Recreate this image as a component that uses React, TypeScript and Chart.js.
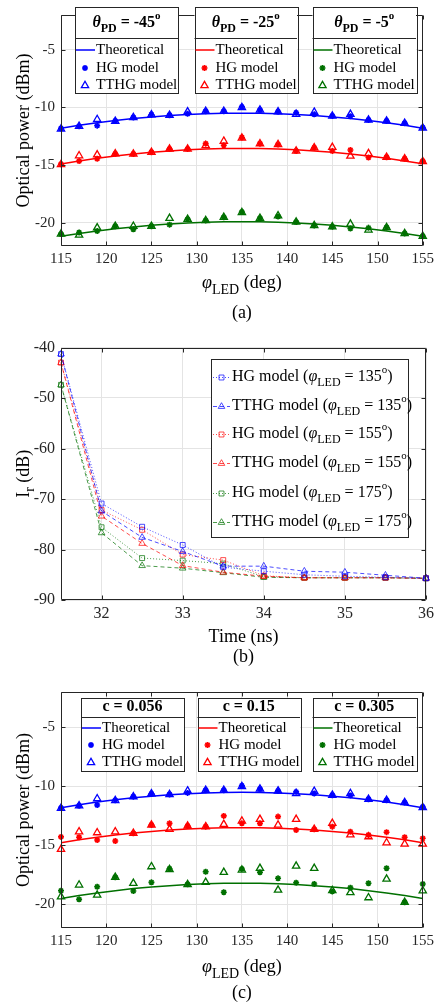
import React, { useEffect, useRef } from 'react';
import { Chart, registerables } from 'chart.js';

Chart.register(...registerables);

const FONT = '"Liberation Serif", "Times New Roman", serif';
const AXIS = '#262626';
const GRID = '#e4e4e4';
const BLUE = '#0000ff';
const RED = '#ff0000';
const GREEN = '#007000';

// ---------- data: panels (a) and (c) ----------
const phiLED = [115, 117, 119, 121, 123, 125, 127, 129, 131, 133, 135, 137, 139, 141, 143, 145, 147, 149, 151, 153, 155];
const phiTicks = [115, 120, 125, 130, 135, 140, 145, 150, 155];
const powerTicks = [-20, -15, -10, -5];
const legendLabels = ['Theoretical', 'HG model', 'TTHG model'];
const thetaPD = ['-45', '-25', '-5'];
const cValues = ['0.056', '0.15', '0.305'];

const blueTheory = [-11.80, -11.55, -11.33, -11.14, -10.97, -10.83, -10.71, -10.62, -10.55, -10.51, -10.50, -10.51, -10.55, -10.62, -10.71, -10.83, -10.97, -11.14, -11.33, -11.55, -11.80];
const blueHG = [-11.83, -11.64, -11.58, -11.18, -10.87, -10.63, -10.68, -10.55, -10.33, -10.33, -9.95, -10.22, -10.38, -10.46, -10.60, -10.74, -10.77, -11.09, -11.18, -11.37, -11.75];
const blueTTHG = [-11.86, -11.64, -11.04, -11.20, -10.87, -10.63, -10.68, -10.38, -10.33, -10.33, -10.00, -10.22, -10.38, -10.60, -10.41, -10.74, -10.60, -11.09, -11.18, -11.37, -11.78];

const redTheoryA = [-14.90, -14.64, -14.41, -14.21, -14.04, -13.89, -13.77, -13.67, -13.60, -13.56, -13.55, -13.56, -13.60, -13.67, -13.77, -13.89, -14.04, -14.21, -14.41, -14.64, -14.88];
const redHGA = [-14.92, -14.65, -14.45, -14.02, -14.04, -13.88, -13.61, -13.61, -13.14, -13.28, -12.60, -13.14, -13.22, -13.77, -13.49, -13.77, -13.69, -14.34, -14.32, -14.45, -14.65];
const redTTHGA = [-14.95, -14.18, -14.10, -14.02, -14.04, -13.88, -13.61, -13.61, -13.30, -12.92, -12.65, -13.14, -13.22, -13.77, -13.49, -13.46, -14.21, -14.00, -14.32, -14.45, -14.68];

const greenTheoryA = [-21.15, -20.91, -20.70, -20.51, -20.35, -20.21, -20.10, -20.00, -19.95, -19.91, -19.90, -19.91, -19.95, -20.00, -20.10, -20.21, -20.35, -20.51, -20.70, -20.91, -21.15];
const greenHGA = [-20.97, -20.83, -20.70, -20.29, -20.56, -20.29, -20.15, -19.69, -19.80, -19.52, -19.06, -19.60, -19.45, -19.93, -20.23, -20.34, -20.48, -20.43, -20.40, -20.92, -21.16];
const greenTTHGA = [-20.97, -21.05, -20.43, -20.29, -20.29, -20.29, -19.60, -19.69, -19.80, -19.52, -19.10, -19.60, -19.38, -19.93, -20.23, -20.34, -20.10, -20.61, -20.40, -20.92, -21.16];

const redTheoryC = [-14.77, -14.53, -14.31, -14.12, -13.95, -13.82, -13.70, -13.61, -13.55, -13.51, -13.50, -13.51, -13.55, -13.61, -13.70, -13.82, -13.95, -14.12, -14.31, -14.53, -14.77];
const redHGC = [-14.28, -14.31, -14.54, -14.63, -13.98, -13.27, -13.13, -13.36, -13.41, -12.50, -13.13, -13.13, -12.56, -13.69, -13.64, -13.41, -13.84, -14.12, -13.88, -14.31, -14.40];
const redTTHGC = [-15.33, -13.84, -13.92, -13.84, -13.98, -13.27, -13.64, -13.36, -13.41, -13.21, -12.93, -12.79, -13.27, -12.79, -13.64, -13.13, -14.10, -14.26, -14.77, -14.88, -14.88];

const greenTheoryC = [-19.50, -19.25, -19.03, -18.84, -18.66, -18.53, -18.41, -18.32, -18.25, -18.21, -18.20, -18.21, -18.25, -18.32, -18.41, -18.53, -18.66, -18.84, -19.03, -19.25, -19.50];
const greenHGC = [-18.84, -19.57, -18.50, -17.70, -18.86, -18.13, -16.98, -18.30, -17.23, -18.97, -17.00, -17.28, -17.79, -18.16, -18.27, -18.90, -18.58, -18.21, -16.94, -19.82, -18.27];
const greenTTHGC = [-19.35, -18.35, -19.20, -17.70, -18.21, -16.80, -17.05, -18.32, -18.13, -17.28, -17.08, -16.94, -18.78, -16.75, -16.94, -18.82, -19.00, -19.43, -17.85, -19.82, -18.84];

// ---------- data: panel (b) ----------
const timeNs = [31.5, 32, 32.5, 33, 33.5, 34, 34.5, 35, 35.5, 36];
const timeTicks = [32, 33, 34, 35, 36];
const irTicks = [-90, -80, -70, -60, -50, -40];
const phiLEDb = ['135', '155', '175'];
const hg135 = [-41.3, -70.9, -75.5, -79.1, -83.5, -84.3, -85.0, -85.3, -85.5, -85.7];
const tthg135 = [-41.3, -72.4, -77.6, -80.4, -83.3, -83.3, -84.3, -84.5, -85.1, -85.7];
const hg155 = [-43.0, -72.2, -76.1, -81.0, -82.1, -85.2, -85.6, -85.6, -85.6, -85.7];
const tthg155 = [-43.0, -73.4, -78.8, -83.2, -84.5, -85.3, -85.6, -85.6, -85.6, -85.7];
const hg175 = [-47.4, -75.6, -81.7, -82.2, -82.8, -85.4, -85.6, -85.6, -85.6, -85.7];
const tthg175 = [-47.4, -76.7, -83.2, -83.7, -84.6, -85.5, -85.6, -85.6, -85.6, -85.7];

// ---------- rich text helpers ----------
type Seg = { t: string; size: number; bold?: boolean; italic?: boolean; dy?: number };

function fontOf(s: Seg) {
  return `${s.italic ? 'italic ' : ''}${s.bold ? 'bold ' : ''}${s.size}px ${FONT}`;
}
function richWidth(ctx: CanvasRenderingContext2D, segs: Seg[]) {
  let w = 0;
  for (const s of segs) {
    ctx.font = fontOf(s);
    w += ctx.measureText(s.t).width;
  }
  return w;
}
function drawRich(ctx: CanvasRenderingContext2D, segs: Seg[], x: number, y: number, align: 'left' | 'center', color = '#000') {
  ctx.save();
  ctx.fillStyle = color;
  ctx.textBaseline = 'middle';
  ctx.textAlign = 'left';
  let cx = align === 'center' ? x - richWidth(ctx, segs) / 2 : x;
  for (const s of segs) {
    ctx.font = fontOf(s);
    ctx.fillText(s.t, cx, y + (s.dy || 0));
    cx += ctx.measureText(s.t).width;
  }
  ctx.restore();
}

function drawMarker(ctx: CanvasRenderingContext2D, style: string, x: number, y: number, r: number, color: string, lw: number) {
  ctx.save();
  ctx.strokeStyle = color;
  ctx.lineWidth = lw;
  ctx.setLineDash([]);
  ctx.beginPath();
  if (style === 'star') {
    for (let k = 0; k < 4; k++) {
      const a = (k * Math.PI) / 4;
      ctx.moveTo(x + Math.cos(a) * r, y + Math.sin(a) * r);
      ctx.lineTo(x - Math.cos(a) * r, y - Math.sin(a) * r);
    }
  } else if (style === 'triangle') {
    ctx.moveTo(x, y - r);
    ctx.lineTo(x + 0.866 * r, y + 0.5 * r);
    ctx.lineTo(x - 0.866 * r, y + 0.5 * r);
    ctx.closePath();
  } else {
    const s = Math.SQRT1_2 * r;
    ctx.rect(x - s, y - s, 2 * s, 2 * s);
  }
  ctx.stroke();
  ctx.restore();
}

// ---------- frame / titles plugin ----------
function makeDecor(d: {
  xTitle: Seg[];
  yTitle: Seg[];
  caption: string;
  xTitleY: number;
  captionY: number;
  xTicks: number[];
  yTicks: number[];
  extra?: (ctx: CanvasRenderingContext2D) => void;
}) {
  return {
    id: 'decor',
    afterDraw(chart: any) {
      const ctx: CanvasRenderingContext2D = chart.ctx;
      const a = chart.chartArea;
      const xs = chart.scales.x;
      const ys = chart.scales.y;
      const L = Math.round(a.left) + 0.5;
      const R = Math.round(a.right) - 0.5;
      const T = Math.round(a.top) + 0.5;
      const B = Math.round(a.bottom) - 0.5;
      ctx.save();
      ctx.strokeStyle = AXIS;
      ctx.lineWidth = 1;
      ctx.beginPath();
      ctx.rect(L, T, R - L, B - T);
      for (const v of d.xTicks) {
        const p = Math.round(xs.getPixelForValue(v)) + 0.5;
        ctx.moveTo(p, B);
        ctx.lineTo(p, B - 4);
        ctx.moveTo(p, T);
        ctx.lineTo(p, T + 4);
      }
      for (const v of d.yTicks) {
        const p = Math.round(ys.getPixelForValue(v)) + 0.5;
        ctx.moveTo(L, p);
        ctx.lineTo(L + 4, p);
        ctx.moveTo(R, p);
        ctx.lineTo(R - 4, p);
      }
      ctx.stroke();
      ctx.restore();
      const cx = (a.left + a.right) / 2;
      drawRich(ctx, d.xTitle, cx, d.xTitleY, 'center');
      ctx.save();
      ctx.translate(24, (a.top + a.bottom) / 2);
      ctx.rotate(-Math.PI / 2);
      drawRich(ctx, d.yTitle, 0, 0, 'center');
      ctx.restore();
      drawRich(ctx, [{ t: d.caption, size: 18 }], cx, d.captionY, 'center');
      if (d.extra) d.extra(ctx);
    },
  };
}

// ---------- panels (a) and (c) ----------
type PowerSeries = { color: string; theory: number[]; hg: number[]; tt: number[] };
type Box = { left: number; right: number; title: Seg[]; color: string };
type Geom = { top: number; divider: number; bottom: number; titleY: number; rows: number[] };

function drawPowerLegends(ctx: CanvasRenderingContext2D, boxes: Box[], g: Geom) {
  for (const b of boxes) {
    ctx.save();
    ctx.fillStyle = '#ffffff';
    ctx.fillRect(b.left, g.top, b.right - b.left, g.bottom - g.top);
    ctx.strokeStyle = AXIS;
    ctx.lineWidth = 1;
    ctx.strokeRect(Math.round(b.left) + 0.5, Math.round(g.top) + 0.5, Math.round(b.right - b.left), Math.round(g.bottom - g.top));
    ctx.beginPath();
    ctx.moveTo(b.left, Math.round(g.divider) + 0.5);
    ctx.lineTo(b.right, Math.round(g.divider) + 0.5);
    ctx.stroke();
    ctx.restore();
    drawRich(ctx, b.title, (b.left + b.right) / 2, g.titleY, 'center');
    ctx.save();
    ctx.strokeStyle = b.color;
    ctx.lineWidth = 1.5;
    ctx.beginPath();
    ctx.moveTo(b.left + 1, g.rows[0]);
    ctx.lineTo(b.left + 20, g.rows[0]);
    ctx.stroke();
    ctx.restore();
    drawMarker(ctx, 'star', b.left + 10, g.rows[1], 3, b.color, 1.6);
    drawMarker(ctx, 'triangle', b.left + 10, g.rows[2] + 0.5, 4.2, b.color, 1.3);
    legendLabels.forEach((lab, i) => {
      drawRich(ctx, [{ t: lab, size: 15 }], b.left + 21, g.rows[i], 'left', '#000');
    });
  }
}

function powerConfig(series: PowerSeries[], boxes: Box[], geom: Geom, padTop: number, xHeight: number, xTitleY: number, captionY: number, caption: string) {
  const datasets: any[] = [];
  for (const s of series) {
    datasets.push({
      data: phiLED.map((x, i) => ({ x, y: s.theory[i] })),
      borderColor: s.color,
      borderWidth: 1.5,
      pointRadius: 0,
      showLine: true,
      tension: 0,
      clip: false,
    });
    datasets.push({
      data: phiLED.map((x, i) => ({ x, y: s.hg[i] })),
      showLine: false,
      pointStyle: 'star',
      pointRadius: 3,
      pointBorderWidth: 1.6,
      pointBorderColor: s.color,
      pointBackgroundColor: s.color,
      borderColor: s.color,
      clip: false,
    });
    datasets.push({
      data: phiLED.map((x, i) => ({ x, y: s.tt[i] })),
      showLine: false,
      pointStyle: 'triangle',
      pointRadius: 4.2,
      pointBorderWidth: 1.3,
      pointBorderColor: s.color,
      pointBackgroundColor: 'rgba(255,255,255,0)',
      borderColor: s.color,
      clip: false,
    });
  }
  return {
    type: 'line',
    data: { datasets },
    options: {
      animation: false,
      responsive: false,
      devicePixelRatio: 1,
      layout: { padding: { top: padTop, right: 12, left: 0, bottom: 0 } },
      plugins: { legend: { display: false }, tooltip: { enabled: false } },
      scales: {
        x: {
          type: 'linear',
          min: 115,
          max: 155,
          afterBuildTicks: (sc: any) => { sc.ticks = phiTicks.map((v) => ({ value: v })); },
          afterFit: (sc: any) => { sc.height = xHeight; },
          ticks: { font: { family: FONT, size: 15 }, color: AXIS, padding: 4, autoSkip: false, maxRotation: 0 },
          grid: { color: GRID, drawTicks: false },
          border: { display: false },
        },
        y: {
          type: 'linear',
          min: -22,
          max: -2,
          afterBuildTicks: (sc: any) => { sc.ticks = powerTicks.map((v) => ({ value: v })); },
          afterFit: (sc: any) => { sc.width = 61; },
          ticks: { font: { family: FONT, size: 15 }, color: AXIS, padding: 6 },
          grid: { color: GRID, drawTicks: false },
          border: { display: false },
        },
      },
    },
    plugins: [
      makeDecor({
        xTitle: [{ t: 'φ', size: 18, italic: true }, { t: 'LED', size: 14, dy: 7 }, { t: ' (deg)', size: 18 }],
        yTitle: [{ t: 'Optical power (dBm)', size: 18 }],
        caption,
        xTitleY,
        captionY,
        xTicks: phiTicks,
        yTicks: powerTicks,
        extra: (ctx) => drawPowerLegends(ctx, boxes, geom),
      }),
    ],
  };
}

function thetaTitle(v: string): Seg[] {
  return [
    { t: 'θ', size: 16, bold: true, italic: true },
    { t: 'PD', size: 12, bold: true, dy: 6 },
    { t: ' = ' + v, size: 16, bold: true },
    { t: 'o', size: 11, bold: true, dy: -7 },
  ];
}

// ---------- panel (b) ----------
function timeConfig() {
  const colors = ['rgba(0,0,255,0.7)', 'rgba(255,0,0,0.7)', 'rgba(0,112,0,0.7)'];
  const hgs = [hg135, hg155, hg175];
  const tts = [tthg135, tthg155, tthg175];
  const datasets: any[] = [];
  hgs.forEach((arr, k) => {
    datasets.push({
      data: timeNs.map((x, i) => ({ x, y: arr[i] })),
      borderColor: colors[k],
      borderWidth: 1,
      borderDash: [1, 2],
      pointStyle: 'rect',
      pointRadius: 3.5,
      pointBorderWidth: 1,
      pointBorderColor: colors[k],
      pointBackgroundColor: 'rgba(255,255,255,0)',
      tension: 0,
      clip: false,
    });
    datasets.push({
      data: timeNs.map((x, i) => ({ x, y: tts[k][i] })),
      borderColor: colors[k],
      borderWidth: 1,
      borderDash: [4, 3],
      pointStyle: 'triangle',
      pointRadius: 3.8,
      pointBorderWidth: 1,
      pointBorderColor: colors[k],
      pointBackgroundColor: 'rgba(255,255,255,0)',
      tension: 0,
      clip: false,
    });
  });
  const legendRows = [47, 76, 104, 133, 163, 192];
  const extra = (ctx: CanvasRenderingContext2D) => {
    const left = 211, right = 408, top = 29, bottom = 207;
    ctx.save();
    ctx.fillStyle = '#fff';
    ctx.fillRect(left, top, right - left, bottom - top);
    ctx.strokeStyle = AXIS;
    ctx.lineWidth = 1;
    ctx.strokeRect(left + 0.5, top + 0.5, right - left, bottom - top);
    ctx.restore();
    legendRows.forEach((y, i) => {
      const k = Math.floor(i / 2);
      const isHG = i % 2 === 0;
      ctx.save();
      ctx.strokeStyle = colors[k];
      ctx.lineWidth = 1;
      ctx.setLineDash(isHG ? [1, 2] : [4, 3]);
      ctx.beginPath();
      ctx.moveTo(213, y + 0.5);
      ctx.lineTo(230, y + 0.5);
      ctx.stroke();
      ctx.restore();
      drawMarker(ctx, isHG ? 'rect' : 'triangle', 221.5, y + 0.5, isHG ? 3.5 : 3.8, colors[k], 1);
      drawRich(ctx, [
        { t: (isHG ? 'HG model' : 'TTHG model') + ' (', size: 16 },
        { t: 'φ', size: 16, italic: true },
        { t: 'LED', size: 12, dy: 6 },
        { t: ' = ' + phiLEDb[k], size: 16 },
        { t: 'o', size: 11, dy: -7 },
        { t: ')', size: 16 },
      ], 232, y, 'left');
    });
  };
  return {
    type: 'line',
    data: { datasets },
    options: {
      animation: false,
      responsive: false,
      devicePixelRatio: 1,
      layout: { padding: { top: 17.5, right: 12, left: 0, bottom: 0 } },
      plugins: { legend: { display: false }, tooltip: { enabled: false } },
      scales: {
        x: {
          type: 'linear',
          min: 31.5,
          max: 36,
          afterBuildTicks: (sc: any) => { sc.ticks = timeTicks.map((v) => ({ value: v })); },
          afterFit: (sc: any) => { sc.height = 70; },
          ticks: { font: { family: FONT, size: 16 }, color: AXIS, padding: 4, autoSkip: false, maxRotation: 0 },
          grid: { color: GRID, drawTicks: false },
          border: { display: false },
        },
        y: {
          type: 'linear',
          min: -90,
          max: -40,
          afterBuildTicks: (sc: any) => { sc.ticks = irTicks.map((v) => ({ value: v })); },
          afterFit: (sc: any) => { sc.width = 61; },
          ticks: { font: { family: FONT, size: 16 }, color: AXIS, padding: 6 },
          grid: { color: GRID, drawTicks: false },
          border: { display: false },
        },
      },
    },
    plugins: [
      makeDecor({
        xTitle: [{ t: 'Time (ns)', size: 18 }],
        yTitle: [{ t: 'I', size: 18 }, { t: 'r', size: 14, dy: 6 }, { t: ' (dB)', size: 18 }],
        caption: '(b)',
        xTitleY: 307,
        captionY: 327,
        xTicks: timeTicks,
        yTicks: irTicks,
        extra,
      }),
    ],
  };
}

function ChartCanvas({ top, height, make }: { top: number; height: number; make: () => any }) {
  const ref = useRef<HTMLCanvasElement | null>(null);
  useEffect(() => {
    if (!ref.current) return;
    const c = new Chart(ref.current, make());
    return () => c.destroy();
  }, []);
  return (
    <canvas
      ref={ref}
      width={438}
      height={height}
      style={{ position: 'absolute', left: 0, top, width: 438, height, display: 'block' }}
    />
  );
}

export default function App() {
  const makeA = () =>
    powerConfig(
      [
        { color: BLUE, theory: blueTheory, hg: blueHG, tt: blueTTHG },
        { color: RED, theory: redTheoryA, hg: redHGA, tt: redTTHGA },
        { color: GREEN, theory: greenTheoryA, hg: greenHGA, tt: greenTTHGA },
      ],
      [
        { left: 75, right: 178, title: thetaTitle(thetaPD[0]), color: BLUE },
        { left: 194.5, right: 297, title: thetaTitle(thetaPD[1]), color: RED },
        { left: 312.5, right: 416, title: thetaTitle(thetaPD[2]), color: GREEN },
      ],
      { top: 7, divider: 37.5, bottom: 93, titleY: 23, rows: [50, 68, 85] },
      1,
      84,
      283,
      313,
      '(a)'
    );
  const makeC = () =>
    powerConfig(
      [
        { color: BLUE, theory: blueTheory, hg: blueHG, tt: blueTTHG },
        { color: RED, theory: redTheoryC, hg: redHGC, tt: redTTHGC },
        { color: GREEN, theory: greenTheoryC, hg: greenHGC, tt: greenTTHGC },
      ],
      [
        { left: 81, right: 184, title: [{ t: 'c = ' + cValues[0], size: 16, bold: true }], color: BLUE },
        { left: 197.5, right: 300, title: [{ t: 'c = ' + cValues[1], size: 16, bold: true }], color: RED },
        { left: 312.5, right: 416, title: [{ t: 'c = ' + cValues[2], size: 16, bold: true }], color: GREEN },
      ],
      { top: 28, divider: 47, bottom: 101, titleY: 37, rows: [58, 75, 92] },
      22,
      80,
      297,
      323,
      '(c)'
    );
  return (
    <div style={{ position: 'absolute', left: 0, top: 0, width: 438, height: 1008, background: '#fff' }}>
      <ChartCanvas top={0} height={330} make={makeA} />
      <ChartCanvas top={330} height={340} make={timeConfig} />
      <ChartCanvas top={670} height={338} make={makeC} />
    </div>
  );
}
